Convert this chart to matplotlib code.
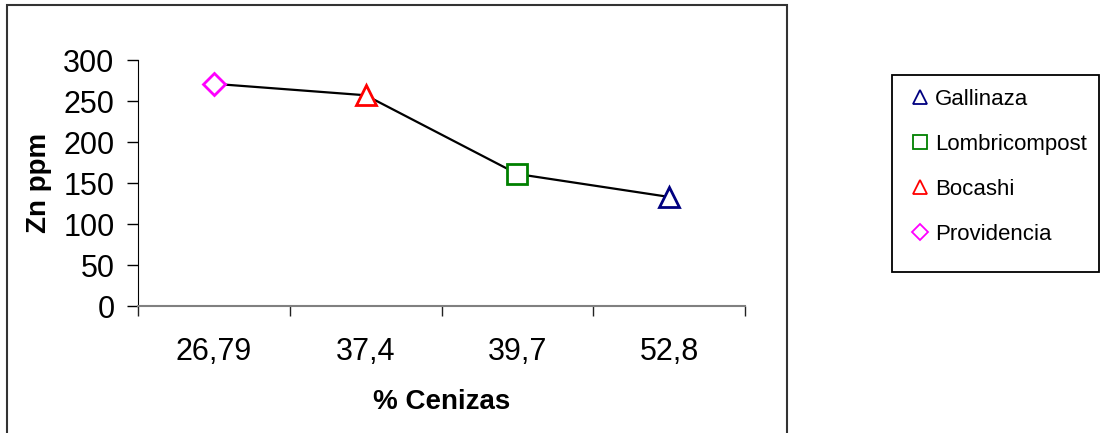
import matplotlib.pyplot as plt
from matplotlib.lines import Line2D
from matplotlib.patches import Rectangle

plt.rcParams['font.family'] = ['Liberation Sans', 'DejaVu Sans']

# datos
cenizas = ['26,79', '37,4', '39,7', '52,8']
zn_ppm = [271, 257, 161, 133]
nombres = ['Providencia', 'Bocashi', 'Lombricompost', 'Gallinaza']
marcadores = ['D', '^', 's', '^']
colores = ['#FF00FF', '#FF0000', '#008000', '#000080']
tamanos = [11, 14, 14, 14]

W, H = 1107, 433
fig = plt.figure(figsize=(W / 100, H / 100), dpi=100)
ax = fig.add_axes([0.1247, 0.2933, 0.5483, 0.5681])

x = list(range(len(cenizas)))
ax.plot(x, zn_ppm, color='black', lw=1.6, zorder=2)
for xi, yi, m, c, s in zip(x, zn_ppm, marcadores, colores, tamanos):
    ax.plot(xi, yi, marker=m, ms=s, mfc='white', mec=c, mew=2, ls='none', zorder=3)

ax.set_xlim(-0.5, 3.5)
ax.set_ylim(0, 300)
ax.set_yticks(range(0, 301, 50))
ax.set_xticks(x)
ax.set_xticklabels(cenizas)
ax.set_xticks([-0.5, 0.5, 1.5, 2.5, 3.5], minor=True)
ax.tick_params(axis='x', which='major', length=0, pad=22, labelsize=22)
ax.tick_params(axis='x', which='minor', length=7, width=1, color='#222222')
ax.tick_params(axis='y', length=8, width=1, pad=9, labelsize=22)

for s in ['top', 'right']:
    ax.spines[s].set_visible(False)
ax.spines['left'].set_color('black')
ax.spines['bottom'].set_color('#808080')
ax.spines['bottom'].set_linewidth(1.5)

ax.set_xlabel('% Cenizas', fontsize=20, fontweight='bold', labelpad=16)
ax.set_ylabel('Zn ppm', fontsize=20, fontweight='bold', labelpad=8)

# leyenda
orden = [3, 2, 1, 0]
handles = [Line2D([], [], marker=marcadores[i], ms=10 if i != 0 else 8, mfc='white',
                  mec=colores[i], mew=1.3, ls='none') for i in orden]
labels = [nombres[i] for i in orden]
leg = fig.legend(handles, labels, loc='upper left',
                 bbox_to_anchor=(912 / W, 1 - 89 / H),
                 fontsize=16, frameon=False,
                 handlelength=0.7, handletextpad=0.35, labelspacing=1.08,
                 borderpad=0, borderaxespad=0)

# caja de la leyenda
fig.patches.append(Rectangle((892 / W, 1 - 272 / H), 207 / W, 197 / H,
                             transform=fig.transFigure, fill=False,
                             edgecolor='black', lw=1.3))

# marco exterior
fig.patches.append(Rectangle((7 / W, -0.05), 780 / W, 1.05 - 5 / H,
                             transform=fig.transFigure, fill=False,
                             edgecolor='#333333', lw=1.5))

fig.savefig('out.png', dpi=100)
